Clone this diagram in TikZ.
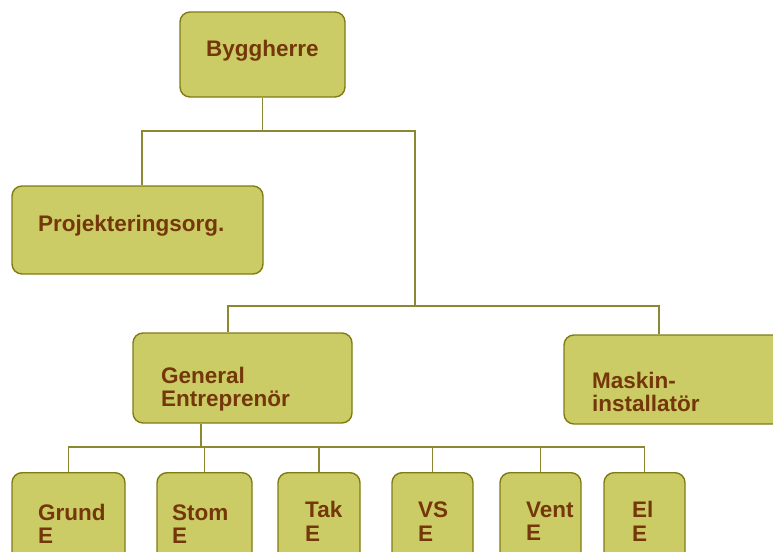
\documentclass[tikz,border=0pt]{standalone}
\usepackage{fontspec}
\setmainfont{Liberation Sans}
\usetikzlibrary{positioning}

\definecolor{boxfill}{RGB}{204,204,102}
\definecolor{boxedge}{RGB}{128,124,20}
\definecolor{linkcol}{RGB}{140,136,50}
\definecolor{labelcol}{RGB}{115,55,10}

\begin{document}
\begin{tikzpicture}[
  x=1pt, y=-1pt,
  orgbox/.style={
    draw=boxedge, fill=boxfill, line width=1.4pt,
    rounded corners=10pt, inner sep=0pt
  },
  lbl/.style={
    anchor=west, inner sep=0pt, align=left, text=labelcol,
    font=\fontsize{22.5}{23.5}\selectfont\bfseries
  },
  link/.style={draw=linkcol, line width=1.3pt},
]
\useasboundingbox (0,0) rectangle (773,551);
\clip (0,0) rectangle (773,551);

% top levels
\node[orgbox, minimum width=165pt, minimum height=85pt] (bygg) at (262.5,54.5) {};
\node[orgbox, minimum width=251pt, minimum height=88pt] (proj) at (137.5,230) {};
\node[orgbox, minimum width=219pt, minimum height=90pt] (ge)   at (242.5,378) {};
\node[orgbox, minimum width=220pt, minimum height=89pt] (mask) at (674,379.5) {};

\node[lbl, anchor=center] (bygg-t) at (262.5,51) {Byggherre};
\node[lbl] (proj-t) at (38,226) {Projekteringsorg.};
\node[lbl] (ge-t)   at (161,389) {General\\Entreprenör};
\node[lbl] (mask-t) at (592,392) {Maskin-\\installatör};

% sub-contractors
\foreach \n/\l/\r/\tx/\ty/\txt in {
    grund/12/125/38/524/Grund,
    stom/157/252/172/524/Stom,
    tak/278/360/305/521.5/Tak,
    vs/392/473/418/521.5/VS,
    vent/500/581/526/521.5/Vent,
    el/604/685/632/521.5/El}{
  \node[orgbox, minimum width=\r pt-\l pt, minimum height=110pt, anchor=north]
    (\n) at ({(\l+\r)/2},472) {};
  \node[lbl] (\n-t) at (\tx,\ty) {\txt\\E};
}

% connectors
\coordinate (t1) at (415,131);
\coordinate (t2) at (415,306);
\coordinate (bus) at (0,447);
\draw[link] (bygg.south) -- (bygg.south |- t1);
\draw[link] ([xshift=4.5pt]proj.north) |- (t1) -- (t2);
\draw[link] ([xshift=-14.5pt]ge.north) |- (t2) -| ([xshift=-15pt]mask.north);
\draw[link] ([xshift=-41.5pt]ge.south) -- ([xshift=-41.5pt]ge.south |- bus);
\draw[link] (grund.north) |- (bus -| el.north) -- (el.north);
\foreach \n in {stom,tak,vs,vent}
  \draw[link] (\n.north) -- (\n.north |- bus);

\end{tikzpicture}
\end{document}
